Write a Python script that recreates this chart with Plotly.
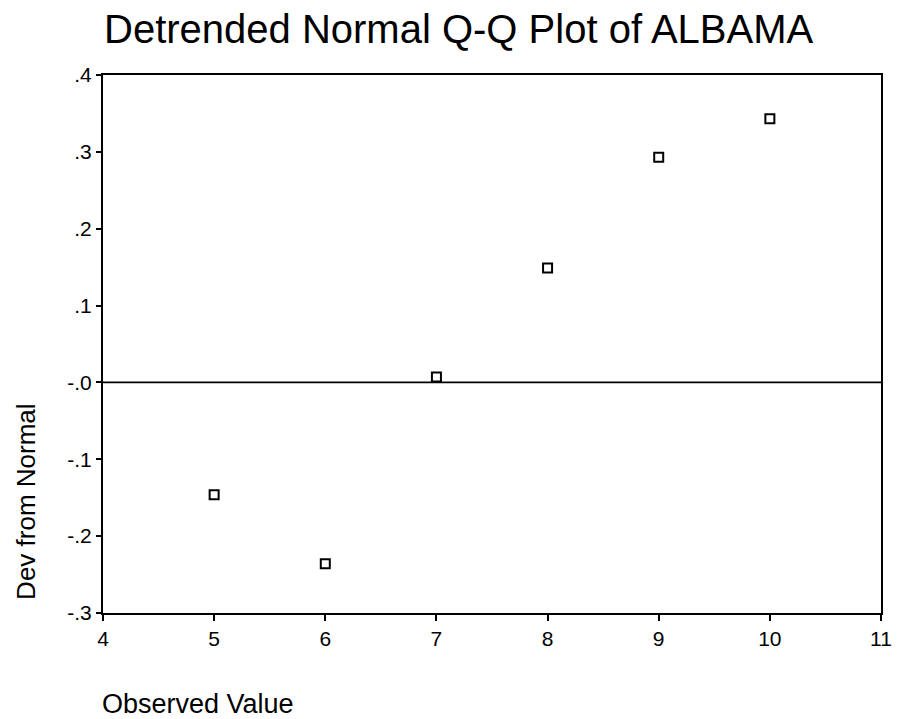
import plotly.graph_objects as go

# Observed values and their deviation from the normal expectation
observed = [5, 6, 7, 8, 9, 10]
dev_from_normal = [-0.146, -0.236, 0.007, 0.149, 0.293, 0.343]

x_ticks = [4, 5, 6, 7, 8, 9, 10, 11]
x_tick_text = ["4", "5", "6", "7", "8", "9", "10", "11"]
y_ticks = [0.4, 0.3, 0.2, 0.1, 0.0, -0.1, -0.2, -0.3]
y_tick_text = [".4", ".3", ".2", ".1", "-.0", "-.1", "-.2", "-.3"]

FONT = "Liberation Sans, Arial, Helvetica, sans-serif"

W, H = 904, 719
L, R, T, B = 103, 14, 75, 106
plot_w = W - L - R
plot_h = H - T - B


def px(x):
    return (x - L) / plot_w


def py(y):
    return (H - B - y) / plot_h


fig = go.Figure()

fig.add_trace(go.Scatter(
    x=observed,
    y=dev_from_normal,
    mode="markers",
    marker=dict(symbol="square-open", size=9, color="black",
                line=dict(width=2, color="black")),
    showlegend=False,
    hoverinfo="x+y",
))

# Reference line at zero deviation
fig.add_shape(type="line", xref="paper", yref="y", x0=0, x1=1, y0=0, y1=0,
              line=dict(color="black", width=1.8))

fig.update_layout(
    width=W, height=H,
    margin=dict(l=L, r=R, t=T, b=B, pad=0),
    paper_bgcolor="white",
    plot_bgcolor="white",
    font=dict(family=FONT, color="black"),
    showlegend=False,
    xaxis=dict(
        range=[4, 11],
        tickvals=x_ticks, ticktext=x_tick_text,
        ticks="outside", ticklen=6, tickwidth=1.5, tickcolor="black",
        tickfont=dict(size=21, family=FONT, color="black"),
        showgrid=False, zeroline=False,
        showline=True, linecolor="black", linewidth=2, mirror=True,
    ),
    yaxis=dict(
        range=[-0.3, 0.4],
        tickvals=y_ticks, ticktext=y_tick_text,
        ticks="outside", ticklen=5, tickwidth=1.5, tickcolor="black",
        tickfont=dict(size=21, family=FONT, color="black"),
        showgrid=False, zeroline=False,
        showline=True, linecolor="black", linewidth=2, mirror=True,
    ),
    annotations=[
        dict(text="Detrended Normal Q-Q Plot of ALBAMA",
             xref="paper", yref="paper", x=px(463), y=py(29),
             xanchor="center", yanchor="middle", showarrow=False,
             font=dict(size=40, family=FONT, color="black")),
        dict(text="Observed Value",
             xref="paper", yref="paper", x=px(100), y=py(704),
             xanchor="left", yanchor="middle", showarrow=False,
             font=dict(size=27, family=FONT, color="black")),
        dict(text="Dev from Normal",
             xref="paper", yref="paper", x=px(25), y=py(502),
             xanchor="center", yanchor="middle", showarrow=False,
             textangle=-90,
             font=dict(size=26, family=FONT, color="black")),
    ],
)

fig.write_html("out.html")
